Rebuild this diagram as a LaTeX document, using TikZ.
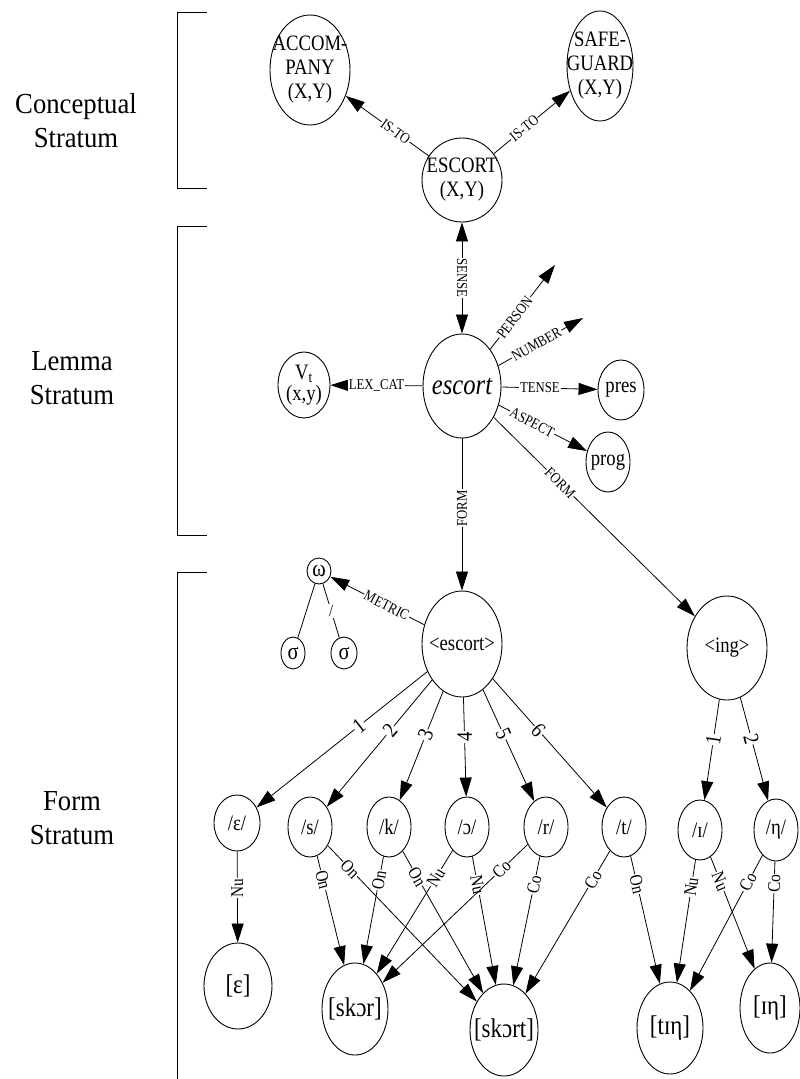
\documentclass[tikz,border=0pt]{standalone}
\usepackage{fontspec}
\setmainfont{Liberation Serif}
\newfontfamily\nodefont[FakeStretch=0.85]{Liberation Serif}
\newfontfamily\sidefont[FakeStretch=0.92]{Liberation Serif}
\usetikzlibrary{shapes.geometric, arrows.meta}

\begin{document}
\begin{tikzpicture}[x=1pt, y=-1pt,
  bub/.style={ellipse, draw, line width=0.9pt, inner sep=0pt},
  ctext/.style={font=\nodefont\fontsize{22}{24}\selectfont, align=center},
  ltext/.style={font=\nodefont\fontsize{22}{24}\selectfont, align=center},
  ftext/.style={font=\nodefont\fontsize{22}{24}\selectfont, align=center},
  gtext/.style={font=\nodefont\fontsize{24}{24}\selectfont},
  stext/.style={font=\nodefont\fontsize{27}{30}\selectfont, align=center},
  side/.style={font=\sidefont\fontsize{29}{34}\selectfont, align=center},
  tip/.tip={Triangle[length=19pt, width=12pt]},
  arr/.style={-tip, line width=0.8pt},
  dbl/.style={tip-tip, line width=0.8pt},
  plain/.style={line width=0.8pt},
  brk/.style={line width=1pt},
  elab/.style={font=\nodefont\fontsize{15}{16}\selectfont, fill=white, inner sep=1pt},
  nlab/.style={font=\nodefont\fontsize{22}{22}\selectfont, fill=white, inner sep=1pt},
  rlab/.style={font=\nodefont\fontsize{18}{18}\selectfont, fill=white, inner sep=0.8pt}
]
\useasboundingbox (0,0) rectangle (800,1079);

% stratum brackets and their names
\draw[brk] (207,12) -- (177,12) -- (177,188) -- (207,188);
\draw[brk] (207,226) -- (177,226) -- (177,535) -- (207,535);
\draw[brk] (207,572) -- (177,572) -- (177,1079);
\node[side] (conc) at (76,121) {Conceptual\\Stratum};
\node[side] (lem) at (72,378) {Lemma\\Stratum};
\node[side] (frm) at (72,818) {Form\\Stratum};

% conceptual stratum
\node[bub, minimum width=80pt, minimum height=110pt, label={[ctext]center:ACCOM-\\PANY\\(X,Y)}] (acc) at (310,70) {};
\node[bub, minimum width=66pt, minimum height=110pt, label={[ctext]center:SAFE-\\GUARD\\(X,Y)}] (safe) at (600,66) {};
\node[bub, minimum width=80pt, minimum height=84pt, label={[ctext]center:ESCORT\\(X,Y)}] (escC) at (462,180) {};

% lemma stratum
\node[bub, minimum width=78pt, minimum height=104pt, label={[font=\nodefont\fontsize{29}{30}\selectfont\itshape]center:escort}] (escL) at (462,386) {};
\node[bub, minimum width=52pt, minimum height=66pt, label={[ltext]center:V\textsubscript{t}\\[-3pt](x,y)}] (vt) at (304,385) {};
\node[bub, minimum width=46pt, minimum height=60pt, label={[ltext]center:pres}] (pres) at (621,390) {};
\node[bub, minimum width=44pt, minimum height=60pt, label={[ltext]center:prog}] (prog) at (608,462) {};
\coordinate (personEnd) at (555,265);
\coordinate (numberEnd) at (583,318);

% form stratum: morphemes and metrical frame
\node[bub, minimum width=80pt, minimum height=106pt, label={[ftext]center:<escort>}] (escF) at (462,644) {};
\node[bub, minimum width=80pt, minimum height=104pt, label={[ftext]center:<ing>}] (ing) at (727,648) {};
\node[bub, minimum width=24pt, minimum height=26pt, label={[gtext]center:ω}] (omega) at (319,571) {};
\node[bub, minimum width=24pt, minimum height=32pt, label={[gtext]center:σ}] (sigA) at (293,653) {};
\node[bub, minimum width=26pt, minimum height=32pt, label={[gtext]center:σ}] (sigB) at (344,653) {};

% segments
\node[bub, minimum width=46pt, minimum height=56pt, label={[ftext]center:/ε/}] (eps) at (237,823) {};
\node[bub, minimum width=44pt, minimum height=60pt, label={[ftext]center:/s/}] (s) at (310,827) {};
\node[bub, minimum width=44pt, minimum height=60pt, label={[ftext]center:/k/}] (k) at (389,827) {};
\node[bub, minimum width=44pt, minimum height=60pt, label={[ftext]center:/ɔ/}] (oo) at (467,827) {};
\node[bub, minimum width=44pt, minimum height=60pt, label={[ftext]center:/r/}] (r) at (546,827) {};
\node[bub, minimum width=44pt, minimum height=60pt, label={[ftext]center:/t/}] (t) at (624,827) {};
\node[bub, minimum width=44pt, minimum height=60pt, label={[ftext]center:/ɪ/}] (ii) at (700,830) {};
\node[bub, minimum width=44pt, minimum height=62pt, label={[ftext]center:/η/}] (ng) at (776,830) {};

% syllables
\node[bub, minimum width=68pt, minimum height=86pt, label={[stext]center:[ε]}] (sylE) at (238,986) {};
\node[bub, minimum width=66pt, minimum height=92pt, label={[stext]center:[skɔr]}] (skor) at (355,1009) {};
\node[bub, minimum width=68pt, minimum height=92pt, label={[stext]center:[skɔrt]}] (skort) at (504,1030) {};
\node[bub, minimum width=66pt, minimum height=92pt, label={[stext]center:[tɪη]}] (ting) at (670,1028) {};
\node[bub, minimum width=60pt, minimum height=90pt, label={[stext]center:[ɪη]}] (ing2) at (770,1008) {};

% conceptual links
\draw[arr] (escC) -- node[elab, sloped, pos=.4] {IS-TO} (acc);
\draw[arr] (escC) -- node[elab, sloped, pos=.4] {IS-TO} (safe);
\draw[dbl] (escC) -- node[elab, rotate=-90] {SENSE} (escL);

% lemma links
\draw[arr] (escL) -- node[elab, sloped, pos=.38] {PERSON} (personEnd);
\draw[arr] (escL) -- node[elab, sloped, pos=.45] {NUMBER} (numberEnd);
\draw[arr] (escL) -- node[elab, pos=.4] {TENSE} (pres);
\draw[arr] (escL) -- node[elab, sloped, pos=.38] {ASPECT} (prog);
\draw[arr] (escL) -- node[elab] {LEX\_CAT} (vt);
\draw[arr] (escL) -- node[elab, rotate=90, pos=.46] {FORM} (escF);
\draw[arr] (escL) -- node[elab, sloped, pos=.33] {FORM} (ing);

% metrical frame
\draw[arr] (escF) -- node[elab, sloped, pos=.4] {METRIC} (omega);
\draw[plain] (omega) -- (sigA);
\draw[plain] (omega) -- node[font=\nodefont\fontsize{17}{17}\selectfont, fill=white, inner sep=1.5pt] {/} (sigB);

% ordered segments
\draw[arr] (escF) -- node[nlab, sloped, pos=.4] {1} (eps);
\draw[arr] (escF) -- node[nlab, sloped, pos=.4] {2} (s);
\draw[arr] (escF) -- node[nlab, sloped, pos=.4] {3} (k);
\draw[arr] (escF) -- node[nlab, rotate=90, pos=.4] {4} (oo);
\draw[arr] (escF) -- node[nlab, sloped, pos=.4] {5} (r);
\draw[arr] (escF) -- node[nlab, sloped, pos=.4] {6} (t);
\draw[arr] (ing) -- node[nlab, sloped, pos=.4] {1} (ii);
\draw[arr] (ing) -- node[nlab, sloped, pos=.4] {2} (ng);

% syllable roles
\draw[arr] (eps) -- node[rlab, rotate=90, pos=.4] {Nu} (sylE);
\draw[arr] (s) -- node[rlab, sloped, pos=.22] {On} (skor);
\draw[arr] (s) -- node[rlab, sloped, pos=.15] {On} (skort);
\draw[arr] (k) -- node[rlab, sloped, pos=.22] {On} (skor);
\draw[arr] (k) -- node[rlab, sloped, pos=.18] {On} (skort);
\draw[arr] (oo) -- node[rlab, sloped, pos=.22] {Nu} (skor);
\draw[arr] (oo) -- node[rlab, sloped, pos=.22] {Nu} (skort);
\draw[arr] (r) -- node[rlab, sloped, pos=.18] {Co} (skor);
\draw[arr] (r) -- node[rlab, sloped, pos=.22] {Co} (skort);
\draw[arr] (t) -- node[rlab, sloped, pos=.2] {Co} (skort);
\draw[arr] (t) -- node[rlab, sloped, pos=.22] {On} (ting);
\draw[arr] (ii) -- node[rlab, sloped, pos=.22] {Nu} (ting);
\draw[arr] (ii) -- node[rlab, sloped, pos=.22] {Nu} (ing2);
\draw[arr] (ng) -- node[rlab, sloped, pos=.2] {Co} (ting);
\draw[arr] (ng) -- node[rlab, sloped, pos=.22] {Co} (ing2);
\end{tikzpicture}
\end{document}
